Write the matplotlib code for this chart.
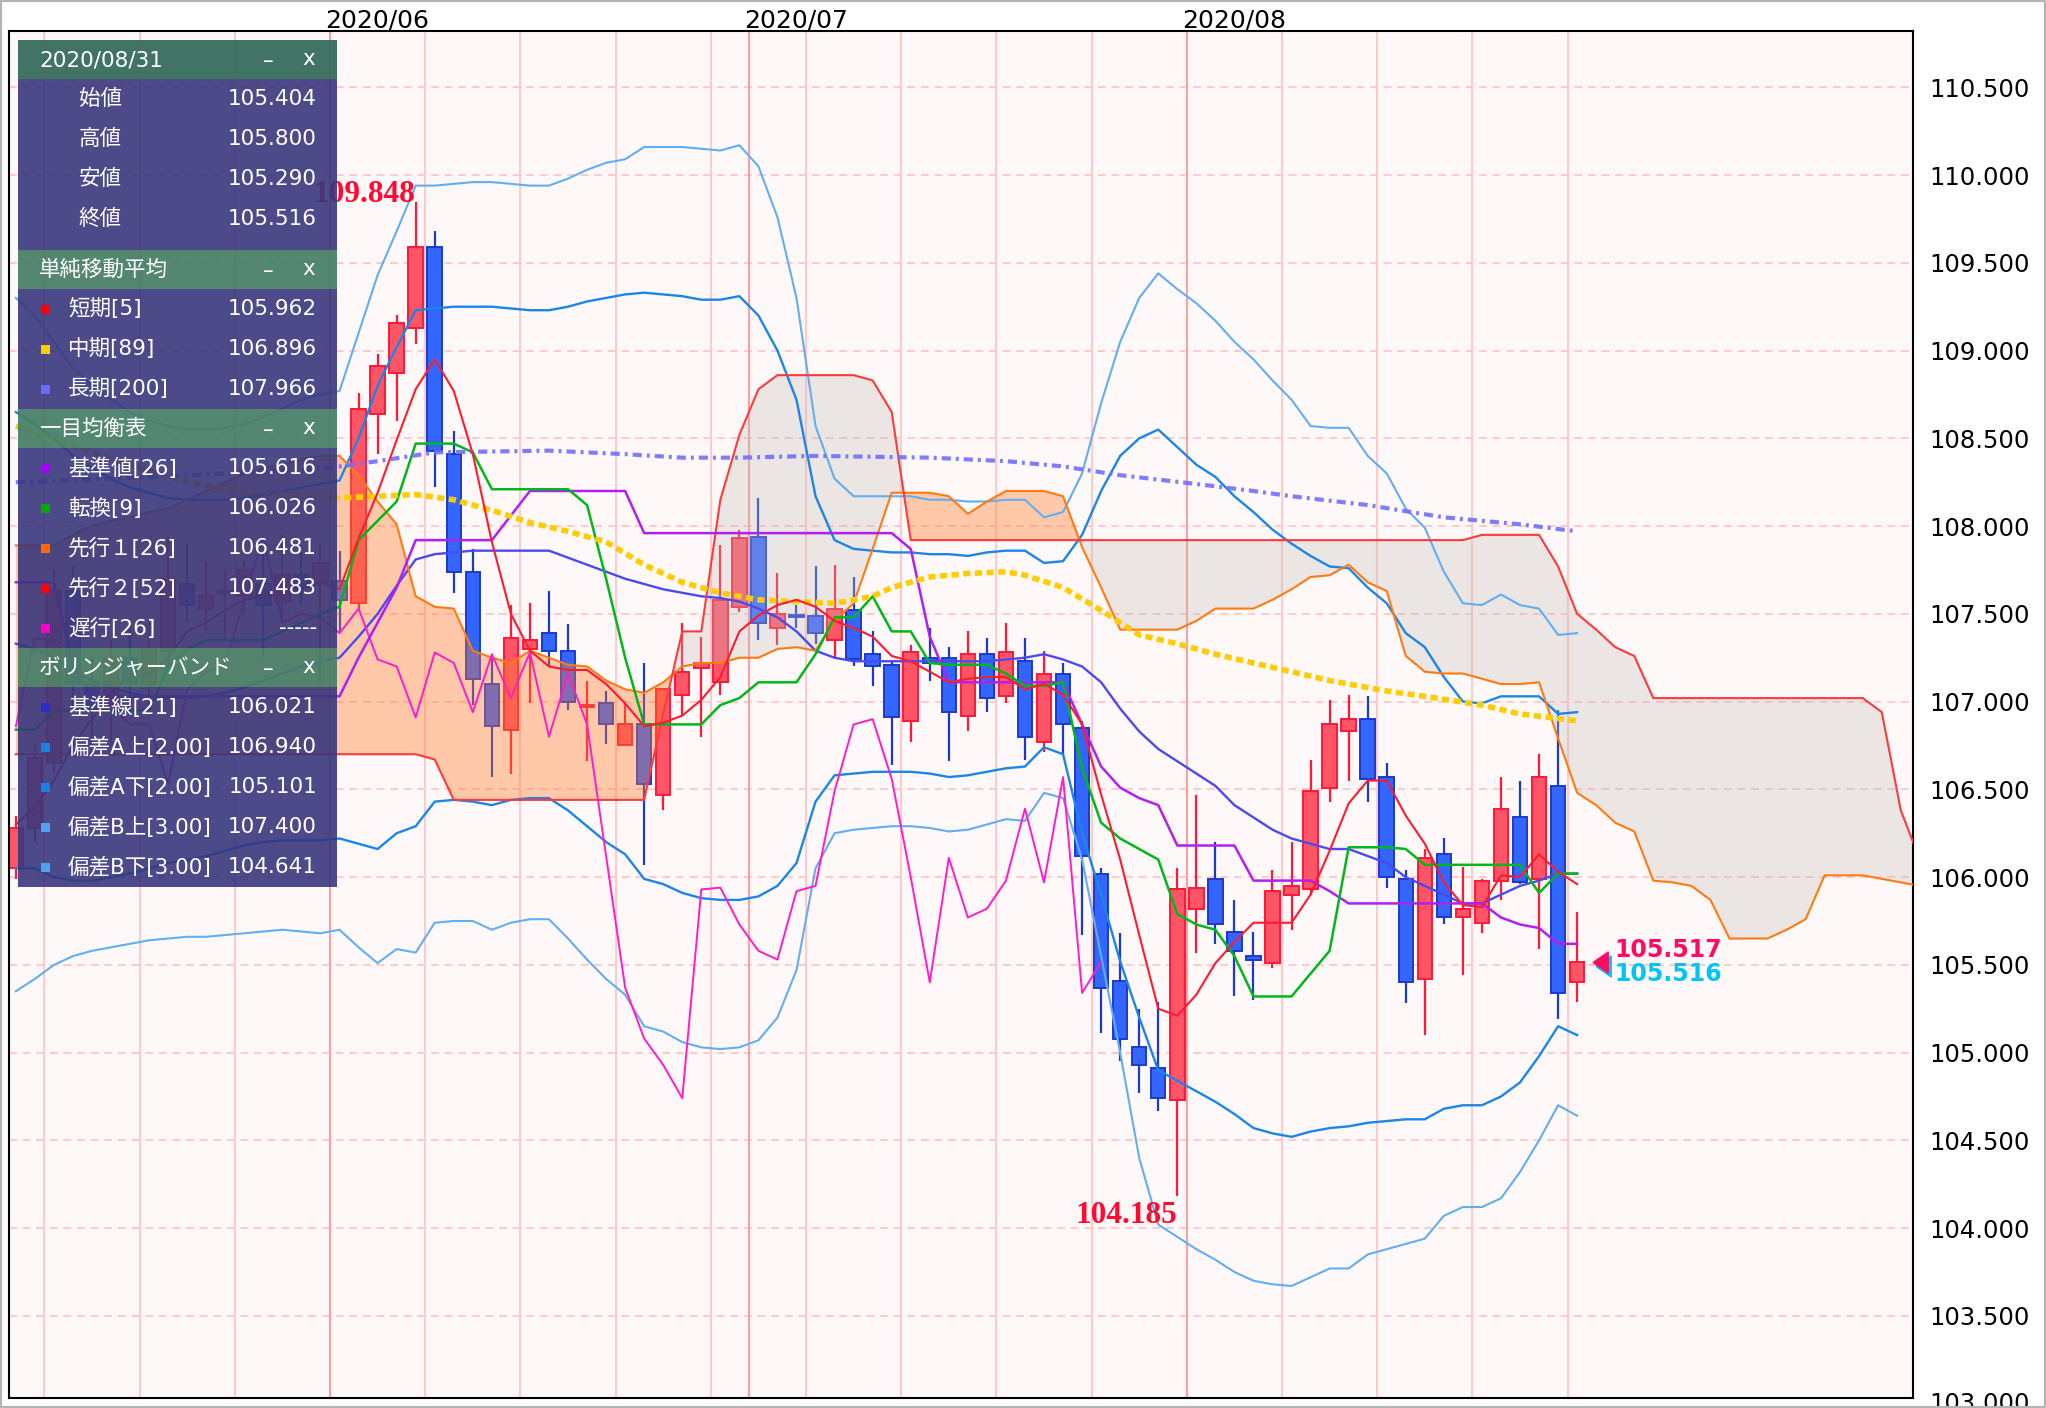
import matplotlib
matplotlib.use('Agg')
import matplotlib.pyplot as plt
import matplotlib.transforms as mtransforms
from matplotlib.patches import Rectangle
from matplotlib.path import Path
import numpy as np
import pandas as pd

plt.rcParams['font.family'] = ['DejaVu Sans', 'Noto Sans CJK JP']

# USD/JPY 日足 2020/05/07 - 2020/08/31
dates = pd.bdate_range('2020-05-07', '2020-08-31')

opens = [
    106.05, 106.28, 106.65, 107.63, 107.10, 106.95, 107.25, 107.10, 107.29, 107.67, 107.53, 107.62, 107.60, 107.67, 107.57, 107.72, 107.68,
    107.69, 107.56, 108.64, 108.87, 109.13, 109.59, 108.41, 107.74, 107.10, 106.84,
    107.30, 107.39, 107.29, 106.97, 106.99, 106.75, 106.87, 106.47, 107.04, 107.19,
    107.11, 107.54, 107.94, 107.42, 107.49, 107.49, 107.35, 107.52, 107.27, 107.21,
    106.89, 107.25, 107.25, 106.92, 107.27, 107.03, 107.23, 106.77, 107.16, 106.85,
    106.02, 105.41, 105.03, 104.91, 104.73, 105.82, 105.99, 105.69, 105.55, 105.51,
    105.90, 105.93, 106.51, 106.83, 106.90, 106.57, 105.99, 105.42, 106.13, 105.77,
    105.74, 105.98, 106.34, 105.99, 106.52, 105.404]
highs = [
    106.35, 106.75, 107.75, 107.77, 107.25, 107.35, 107.45, 107.45, 107.95, 107.90, 107.80, 107.75, 107.80, 107.85, 107.95, 107.85, 107.90,
    107.86, 108.76, 108.98, 109.20, 109.848, 109.68, 108.54, 107.87, 107.25, 107.55,
    107.56, 107.63, 107.44, 107.12, 107.06, 107.00, 107.22, 107.07, 107.45, 107.37,
    107.89, 107.98, 108.16, 107.73, 107.55, 107.77, 107.78, 107.71, 107.40, 107.23,
    107.32, 107.42, 107.31, 107.40, 107.36, 107.45, 107.36, 107.29, 107.22, 106.89,
    106.05, 105.68, 105.25, 105.29, 106.05, 106.47, 106.20, 105.87, 105.69, 106.04,
    106.20, 106.67, 107.01, 107.04, 107.03, 106.65, 106.04, 106.16, 106.22, 106.06,
    105.99, 106.57, 106.55, 106.70, 106.95, 105.800]
lows = [
    105.99, 106.20, 106.60, 106.95, 106.75, 106.75, 106.95, 106.95, 107.20, 107.45, 107.40, 107.35, 107.50, 107.25, 107.45, 107.55, 107.10,
    107.39, 107.53, 108.41, 108.60, 109.04, 108.22, 107.62, 106.98, 106.57, 106.59,
    106.99, 107.20, 106.95, 106.66, 106.76, 106.75, 106.07, 106.38, 106.92, 106.80,
    107.04, 107.51, 107.35, 107.32, 107.42, 107.33, 107.24, 107.20, 107.09, 106.64,
    106.77, 107.12, 106.66, 106.83, 106.94, 106.99, 106.67, 106.71, 106.70, 105.67,
    105.11, 104.95, 104.77, 104.67, 104.185, 105.57, 105.62, 105.32, 105.30, 105.48,
    105.70, 105.90, 106.43, 106.55, 106.43, 105.94, 105.28, 105.10, 105.73, 105.44,
    105.68, 105.87, 105.96, 105.59, 105.19, 105.290]
closes = [
    106.28, 106.68, 107.63, 107.10, 106.95, 107.25, 107.10, 107.30, 107.70, 107.55, 107.60, 107.62, 107.75, 107.55, 107.72, 107.65, 107.79,
    107.58, 108.67, 108.91, 109.16, 109.59, 108.43, 107.74, 107.13, 106.86, 107.36,
    107.35, 107.29, 107.00, 106.98, 106.87, 106.87, 106.53, 107.07, 107.17, 107.22,
    107.58, 107.93, 107.45, 107.50, 107.48, 107.39, 107.53, 107.24, 107.20, 106.91,
    107.28, 107.22, 106.94, 107.27, 107.02, 107.28, 106.80, 107.16, 106.87, 106.12,
    105.37, 105.08, 104.93, 104.74, 105.93, 105.94, 105.73, 105.58, 105.53, 105.92,
    105.95, 106.49, 106.87, 106.90, 106.56, 106.00, 105.40, 106.11, 105.77, 105.82,
    105.98, 106.39, 105.97, 106.57, 105.34, 105.516]

# 単純移動平均
sma5 = [
    106.30, 106.40, 106.55, 106.75, 106.90, 107.05, 107.15, 107.15, 107.25, 107.40, 107.45, 107.52, 107.58, 107.60, 107.62, 107.64, 107.68,
    107.64, 107.93, 108.19, 108.49, 108.78, 108.95, 108.77, 108.41, 107.91, 107.50,
    107.29, 107.20, 107.18, 107.18, 107.10, 106.99, 106.86, 106.88, 106.92, 107.01,
    107.14, 107.40, 107.49, 107.55, 107.58, 107.54, 107.46, 107.42, 107.37, 107.26,
    107.23, 107.17, 107.11, 107.13, 107.14, 107.14, 107.07, 107.10, 107.04, 106.87,
    106.47, 106.10, 105.67, 105.25, 105.21, 105.33, 105.51, 105.63, 105.74, 105.74,
    105.74, 105.90, 106.15, 106.42, 106.55, 106.55, 106.35, 106.19, 105.97, 105.84,
    105.83, 106.01, 106.00, 106.13, 106.03, 105.96]
sma89_day = [0, 2, 4, 6, 8, 10, 12, 14, 16, 17, 19, 21, 23, 25, 27, 29, 31, 33, 35, 37, 39,
             41, 43, 45, 46, 48, 50, 52, 53, 55, 57, 59, 61, 63, 67, 69, 72, 74, 77, 79, 82]
sma89 = [108.57, 108.50, 108.42, 108.35, 108.28, 108.23, 108.20, 108.18, 108.16, 108.16, 108.17,
         108.18, 108.15, 108.09, 108.02, 107.97, 107.91, 107.78, 107.68, 107.62, 107.58,
         107.57, 107.56, 107.60, 107.65, 107.71, 107.73, 107.74, 107.72, 107.65, 107.52,
         107.38, 107.33, 107.27, 107.17, 107.12, 107.06, 107.03, 106.98, 106.93, 106.89]
sma200_day = [0, 5, 11, 16, 17, 19, 22, 28, 32, 35, 38, 42, 48, 52, 55, 58, 62, 65, 67, 71, 75, 79, 82]
sma200 = [108.25, 108.27, 108.30, 108.33, 108.34, 108.37, 108.42, 108.43, 108.41, 108.39, 108.39,
          108.40, 108.39, 108.37, 108.34, 108.29, 108.24, 108.20, 108.17, 108.12, 108.05, 108.01, 107.97]

# 一目均衡表
tenkan = [
    106.84, 106.84, 106.95, 106.95, 106.95, 106.95, 106.95, 106.95, 107.20, 107.30, 107.35, 107.35, 107.35, 107.35, 107.40, 107.45, 107.50,
    107.54, 107.92, 108.03, 108.14, 108.47, 108.47, 108.47, 108.42, 108.21, 108.21,
    108.21, 108.21, 108.21, 108.12, 107.70, 107.25, 106.87, 106.87, 106.87, 106.87,
    106.98, 107.02, 107.11, 107.11, 107.11, 107.27, 107.48, 107.48, 107.60, 107.40,
    107.40, 107.22, 107.21, 107.21, 107.21, 107.16, 107.09, 107.09, 107.11, 106.62,
    106.31, 106.22, 106.16, 106.10, 105.79, 105.73, 105.70, 105.55, 105.32, 105.32,
    105.32, 105.45, 105.58, 106.17, 106.17, 106.17, 106.16, 106.07, 106.07, 106.07,
    106.07, 106.07, 106.07, 105.91, 106.02, 106.02]
kijun = [
    107.68, 107.68, 107.68, 107.20, 107.03, 107.03, 107.03, 107.03, 107.03, 107.03, 107.03, 107.03, 107.03, 107.03, 107.03, 107.03, 107.03,
    107.03, 107.25, 107.45, 107.65, 107.92, 107.92, 107.92, 107.92, 107.92, 108.06,
    108.20, 108.20, 108.20, 108.20, 108.20, 108.20, 107.96, 107.96, 107.96, 107.96,
    107.96, 107.96, 107.96, 107.96, 107.96, 107.96, 107.96, 107.96, 107.96, 107.96,
    107.87, 107.37, 107.11, 107.11, 107.11, 107.11, 107.11, 107.11, 107.11, 106.87,
    106.63, 106.51, 106.45, 106.41, 106.18, 106.18, 106.18, 106.18, 105.98, 105.98,
    105.98, 105.98, 105.92, 105.85, 105.85, 105.85, 105.85, 105.85, 105.85, 105.85,
    105.85, 105.77, 105.73, 105.71, 105.62, 105.62]
# 先行スパン (26本先まで)
span_a = [
    107.89, 107.89, 107.89, 107.95, 108.00, 108.03, 108.05, 108.08, 108.10, 108.15, 108.20, 108.25, 108.30, 108.33, 108.35, 108.38, 108.40,
    108.40, 108.29, 108.14, 108.01, 107.60, 107.54, 107.53, 107.29, 107.25, 107.22,
    107.29, 107.25, 107.21, 107.20, 107.12, 107.07, 107.05, 107.11, 107.20, 107.22,
    107.22, 107.25, 107.25, 107.30, 107.31, 107.29, 107.46, 107.56, 107.87, 108.19,
    108.19, 108.19, 108.17, 108.07, 108.14, 108.20, 108.20, 108.20, 108.17, 107.88,
    107.65, 107.41, 107.41, 107.41, 107.41, 107.46, 107.53, 107.53, 107.53, 107.58,
    107.64, 107.71, 107.72, 107.78, 107.68, 107.63, 107.26, 107.17, 107.16, 107.16,
    107.13, 107.10, 107.10, 107.11, 106.79, 106.48, 106.41, 106.31, 106.26, 105.98,
    105.97, 105.95, 105.87, 105.65, 105.65, 105.65, 105.70, 105.76, 106.01, 106.01,
    106.01, 105.99, 105.97, 105.95]
span_b = [
    106.70, 106.70, 106.70, 106.70, 106.70, 106.70, 106.70, 106.70, 106.70, 106.70, 106.70, 106.70, 106.70, 106.70, 106.70, 106.70, 106.70,
    106.70, 106.70, 106.70, 106.70, 106.70, 106.67, 106.44, 106.44, 106.44, 106.44,
    106.44, 106.44, 106.44, 106.44, 106.44, 106.44, 106.44, 106.93, 107.40, 107.40,
    108.15, 108.52, 108.78, 108.86, 108.86, 108.86, 108.86, 108.86, 108.83, 108.65,
    107.92, 107.92, 107.92, 107.92, 107.92, 107.92, 107.92, 107.92, 107.92, 107.92,
    107.92, 107.92, 107.92, 107.92, 107.92, 107.92, 107.92, 107.92, 107.92, 107.92,
    107.92, 107.92, 107.92, 107.92, 107.92, 107.92, 107.92, 107.92, 107.92, 107.92,
    107.95, 107.95, 107.95, 107.95, 107.77, 107.50, 107.41, 107.31, 107.26, 107.02,
    107.02, 107.02, 107.02, 107.02, 107.02, 107.02, 107.02, 107.02, 107.02, 107.02,
    107.02, 106.94, 106.38, 106.10]
chikou_shift = 25

# ボリンジャーバンド
bb_mid = [
    107.33, 107.30, 107.25, 107.18, 107.12, 107.08, 107.05, 107.03, 107.02, 107.02, 107.03, 107.05, 107.08, 107.12, 107.16, 107.20, 107.23,
    107.25, 107.37, 107.50, 107.66, 107.81, 107.84, 107.85, 107.86, 107.86, 107.86,
    107.86, 107.86, 107.82, 107.78, 107.74, 107.70, 107.67, 107.64, 107.62, 107.60,
    107.59, 107.57, 107.53, 107.48, 107.40, 107.29, 107.25, 107.23, 107.23, 107.23,
    107.23, 107.23, 107.23, 107.23, 107.23, 107.24, 107.25, 107.27, 107.24, 107.20,
    107.11, 106.96, 106.83, 106.73, 106.66, 106.59, 106.52, 106.41, 106.34, 106.27,
    106.22, 106.19, 106.16, 106.16, 106.12, 106.08, 106.00, 105.95, 105.90, 105.85,
    105.85, 105.90, 105.95, 105.98, 106.02, 106.02]
bb_up2 = [
    108.65, 108.58, 108.50, 108.40, 108.33, 108.27, 108.22, 108.19, 108.16, 108.15, 108.15, 108.15, 108.16, 108.18, 108.20, 108.22, 108.24,
    108.26, 108.50, 108.80, 109.02, 109.23, 109.24, 109.25, 109.25, 109.25, 109.24,
    109.23, 109.23, 109.25, 109.28, 109.30, 109.32, 109.33, 109.32, 109.31, 109.29,
    109.29, 109.31, 109.20, 109.00, 108.72, 108.17, 107.92, 107.87, 107.86, 107.85,
    107.85, 107.84, 107.84, 107.83, 107.85, 107.86, 107.86, 107.79, 107.80, 107.95,
    108.20, 108.40, 108.50, 108.55, 108.45, 108.35, 108.28, 108.17, 108.08, 107.98,
    107.90, 107.83, 107.77, 107.76, 107.65, 107.56, 107.39, 107.31, 107.14, 107.00,
    106.99, 107.03, 107.03, 107.03, 106.93, 106.94]
bb_lo2 = [
    106.05, 106.05, 106.00, 105.98, 105.98, 106.00, 106.02, 106.05, 106.08, 106.10, 106.12, 106.15, 106.18, 106.20, 106.21, 106.21, 106.21,
    106.22, 106.19, 106.16, 106.25, 106.29, 106.43, 106.44, 106.43, 106.41, 106.44,
    106.45, 106.45, 106.38, 106.29, 106.20, 106.13, 105.99, 105.96, 105.91, 105.88,
    105.87, 105.87, 105.89, 105.95, 106.08, 106.43, 106.58, 106.59, 106.60, 106.60,
    106.60, 106.59, 106.57, 106.58, 106.60, 106.62, 106.63, 106.74, 106.70, 106.25,
    105.90, 105.52, 105.20, 104.90, 104.84, 104.78, 104.72, 104.65, 104.57, 104.54,
    104.52, 104.55, 104.57, 104.58, 104.60, 104.61, 104.62, 104.62, 104.68, 104.70,
    104.70, 104.75, 104.83, 104.98, 105.15, 105.10]
bb_up3 = [
    109.30, 109.20, 109.05, 108.90, 108.80, 108.72, 108.65, 108.60, 108.57, 108.55, 108.55, 108.56, 108.58, 108.62, 108.67, 108.72, 108.75,
    108.77, 109.10, 109.43, 109.68, 109.94, 109.94, 109.95, 109.96, 109.96, 109.95,
    109.94, 109.94, 109.98, 110.03, 110.07, 110.09, 110.16, 110.16, 110.16, 110.15,
    110.14, 110.17, 110.05, 109.76, 109.30, 108.57, 108.27, 108.17, 108.17, 108.17,
    108.17, 108.15, 108.15, 108.14, 108.14, 108.15, 108.15, 108.05, 108.08, 108.30,
    108.70, 109.05, 109.30, 109.44, 109.35, 109.27, 109.17, 109.05, 108.95, 108.83,
    108.72, 108.57, 108.56, 108.56, 108.40, 108.30, 108.10, 107.99, 107.74, 107.56,
    107.55, 107.61, 107.55, 107.53, 107.38, 107.39]
bb_lo3 = [
    105.35, 105.42, 105.50, 105.55, 105.58, 105.60, 105.62, 105.64, 105.65, 105.66, 105.66, 105.67, 105.68, 105.69, 105.70, 105.69, 105.68,
    105.70, 105.60, 105.51, 105.59, 105.57, 105.74, 105.75, 105.75, 105.70, 105.74,
    105.76, 105.76, 105.65, 105.53, 105.42, 105.33, 105.15, 105.12, 105.06, 105.03,
    105.02, 105.03, 105.07, 105.20, 105.47, 106.05, 106.25, 106.27, 106.28, 106.29,
    106.29, 106.28, 106.26, 106.27, 106.30, 106.33, 106.32, 106.48, 106.45, 106.10,
    105.55, 105.00, 104.40, 104.02, 103.95, 103.88, 103.82, 103.75, 103.70, 103.68,
    103.67, 103.72, 103.77, 103.77, 103.85, 103.88, 103.91, 103.94, 104.07, 104.12,
    104.12, 104.17, 104.32, 104.50, 104.70, 104.64]

price_tags = [105.517, 105.516]
y_ticks = np.arange(103.5, 110.51, 0.5)

legend_sections = [
    ('2020/08/31', '#336a5a', [
        (None, '始値', '105.404'),
        (None, '高値', '105.800'),
        (None, '安値', '105.290'),
        (None, '終値', '105.516')]),
    ('単純移動平均', '#467e68', [
        ('#ff0000', '短期[5]', '105.962'),
        ('#ffcc00', '中期[89]', '106.896'),
        ('#6b6bff', '長期[200]', '107.966')]),
    ('一目均衡表', '#467e68', [
        ('#a600ff', '基準値[26]', '105.616'),
        ('#00aa00', '転換[9]', '106.026'),
        ('#ff6a00', '先行１[26]', '106.481'),
        ('#ff0000', '先行２[52]', '107.483'),
        ('#ff00cc', '遅行[26]', '-----')]),
    ('ボリンジャーバンド', '#467e68', [
        ('#2b2bd0', '基準線[21]', '106.021'),
        ('#1a7fe6', '偏差A上[2.00]', '106.940'),
        ('#1a7fe6', '偏差A下[2.00]', '105.101'),
        ('#4fa3ee', '偏差B上[3.00]', '107.400'),
        ('#4fa3ee', '偏差B下[3.00]', '104.641')]),
]

W, H = 2046, 1408
fig = plt.figure(figsize=(W / 100, H / 100), dpi=100)
fig.patch.set_facecolor('white')
ax = fig.add_axes([9 / W, 1 - 1398 / H, (1913 - 9) / W, (1398 - 31) / H])
ax.set_facecolor('#fff8f8')

x = np.arange(len(dates))
o, h, l, c = (np.array(v) for v in (opens, highs, lows, closes))

# 縦グリッド (週初め / 月初め)
for i, d in enumerate(dates):
    new_month = i > 0 and d.month != dates[i - 1].month
    if new_month:
        ax.axvline(i - 0.5, color='#ff9e9e', lw=1.5, zorder=0.6)
        ax.text(i - 0.77, 1 + 3 / 1367, f'{d.year}/{d.month:02d}', fontsize=18,
                transform=mtransforms.blended_transform_factory(ax.transData, ax.transAxes),
                ha='left', va='baseline', color='black')
    elif d.weekday() == 0:
        ax.axvline(i - 0.5, color='#ffcaca', lw=1.5, zorder=0.6)

# ローソク足
up = c >= o
body_lo = np.minimum(o, c)
body_h = np.maximum(np.abs(c - o), 0.012)
for mask, face, edge in ((up, '#ff5566', '#ff1838'), (~up, '#3366ff', '#1a3acc')):
    ax.vlines(x[mask], l[mask], h[mask], color=edge, lw=1.6, zorder=2)
    ax.bar(x[mask], body_h[mask], bottom=body_lo[mask], width=0.76, color=face,
           edgecolor=edge, linewidth=1.4, zorder=2.1)

# 雲
sx = np.arange(len(span_a))
sa, sb = np.array(span_a), np.array(span_b)
ax.fill_between(sx, sa, sb, where=sa >= sb, interpolate=True, color='#ff7a2a', alpha=0.38, lw=0, zorder=2.5)
ax.fill_between(sx, sa, sb, where=sa < sb, interpolate=True, color='#c2bdbc', alpha=0.32, lw=0, zorder=2.5)

# ボリンジャーバンド
ax.plot(x, bb_up3, color='#62aef2', lw=1.5, zorder=3)
ax.plot(x, bb_lo3, color='#62aef2', lw=1.5, zorder=3)
ax.plot(x, bb_up2, color='#1a86e8', lw=1.7, zorder=3)
ax.plot(x, bb_lo2, color='#1a86e8', lw=1.7, zorder=3)
ax.plot(x, bb_mid, color='#4a4af0', lw=1.7, zorder=3)

# 一目均衡表
ax.plot(sx, span_a, color='#ff7a10', lw=1.5, zorder=3.1)
ax.plot(sx, span_b, color='#ff3a3a', lw=1.5, zorder=3.1)
ax.plot(x[:len(x) - chikou_shift], c[chikou_shift:], color='#ff1ccc', lw=1.4, zorder=3.1)
ax.plot(x, kijun, color='#b020f0', lw=1.8, zorder=3.2)
ax.plot(x, tenkan, color='#00b81a', lw=1.8, zorder=3.2)

# 移動平均
ax.plot(sma200_day, sma200, color='#7070ff', lw=3.0, ls=(0, (2.2, 1.2, 0.7, 1.2)), alpha=0.9, zorder=3.3)
ax.plot(sma89_day, sma89, color='#ffcc00', lw=4.0, ls=(0, (1.3, 0.8)), zorder=3.3)
ax.plot(x, sma5, color='#ff1a2e', lw=1.5, zorder=3.4)

# 最高値 / 最安値
i_hi, i_lo = int(np.argmax(h)), int(np.argmin(l))
ax.text(i_hi, h[i_hi], f'{h[i_hi]:.3f}', ha='right', va='baseline', color='#ff0a30',
        fontsize=22.5, family='Liberation Serif', weight='bold', zorder=5)
ax.text(i_lo, l[i_lo], f'{l[i_lo]:.3f}', ha='right', va='top', color='#ff0a30',
        fontsize=22.5, family='Liberation Serif', weight='bold', zorder=5,
        transform=mtransforms.offset_copy(ax.transData, fig=fig, y=-5, units='dots'))

# 現在値
tri = Path([(-1, 0), (0.6, 1.1), (0.6, -1.1), (-1, 0)])
x_last = len(x) - 1
ax.plot([x_last + 1.35], [price_tags[1]], marker=tri, ms=15, color='#00c4f4', lw=0, zorder=5,
        transform=mtransforms.offset_copy(ax.transData, fig=fig, x=2, y=-4, units='dots'), clip_on=False)
ax.plot([x_last + 1.3], [price_tags[0]], marker=tri, ms=15, color='#ff0a64', lw=0, zorder=5.1, clip_on=False)
ax.text(x_last + 1.97, price_tags[0], f'{price_tags[0]:.3f}', ha='left', va='bottom', color='#ff0a64',
        fontsize=17, weight='bold', zorder=5)
ax.text(x_last + 1.97, price_tags[1], f'{price_tags[1]:.3f}', ha='left', va='top', color='#00c4f4',
        fontsize=17, weight='bold', zorder=5)

# 軸
ax.set_xlim(-0.36, 99.64)
ax.set_ylim(103.032, 110.821)
ax.set_xticks([])
ax.yaxis.tick_right()
ax.set_yticks(y_ticks)
ax.set_yticklabels([f'{v:.3f}' for v in y_ticks])
ax.tick_params(axis='y', length=0, pad=11.5, labelsize=17.5)
ax.set_axisbelow(True)
ax.grid(axis='y', color='#ffc9c9', linestyle=(0, (4, 3)), linewidth=1.4)
for s in ax.spines.values():
    s.set_color('black')
    s.set_linewidth(1.5)
# 下端で切れている目盛ラベル
ax.text(1.0, 103.0, f'{103.0:.3f}', fontsize=17.5, ha='left', va='center', clip_on=False,
        transform=mtransforms.offset_copy(
            mtransforms.blended_transform_factory(ax.transAxes, ax.transData), fig=fig, x=16, units='dots'))


# 凡例パネル
def fbox(x0, y0, x1, y1, color, alpha):
    fig.add_artist(Rectangle((x0 / W, 1 - y1 / H), (x1 - x0) / W, (y1 - y0) / H,
                             transform=fig.transFigure, facecolor=color, edgecolor='none',
                             alpha=alpha, zorder=10))


def ftext(px, py, s, **kw):
    fig.text(px / W, 1 - py / H, s, color='white', fontsize=15.5, va='center', zorder=11, **kw)


top = 40
for k, (title, hcol, rows) in enumerate(legend_sections):
    fbox(18, top, 337, top + 39, hcol, 0.93)
    ftext(39, top + 20, title, ha='left')
    ftext(268, top + 21, '–', ha='center')
    ftext(309, top + 19, 'x', ha='center')
    body_top = top + 39
    body_h = 40 * len(rows) + (11 if k == 0 else 0)
    fbox(18, body_top, 337, body_top + body_h, '#38377c', 0.9)
    for j, (mc, lab, val) in enumerate(rows):
        yc = body_top + 20 + 40 * j
        if mc is None:
            ftext(100, yc, lab, ha='center')
        else:
            fbox(41, yc - 4, 50, yc + 5, mc, 1.0)
            ftext(68, yc, lab, ha='left')
        ftext(317, yc, val, ha='right')
    top = body_top + body_h

fig.add_artist(Rectangle((0, 0), 1, 1, transform=fig.transFigure, fill=False,
                         edgecolor='#b4b4b4', lw=3, zorder=12))

fig.savefig('out.png', dpi=100)
